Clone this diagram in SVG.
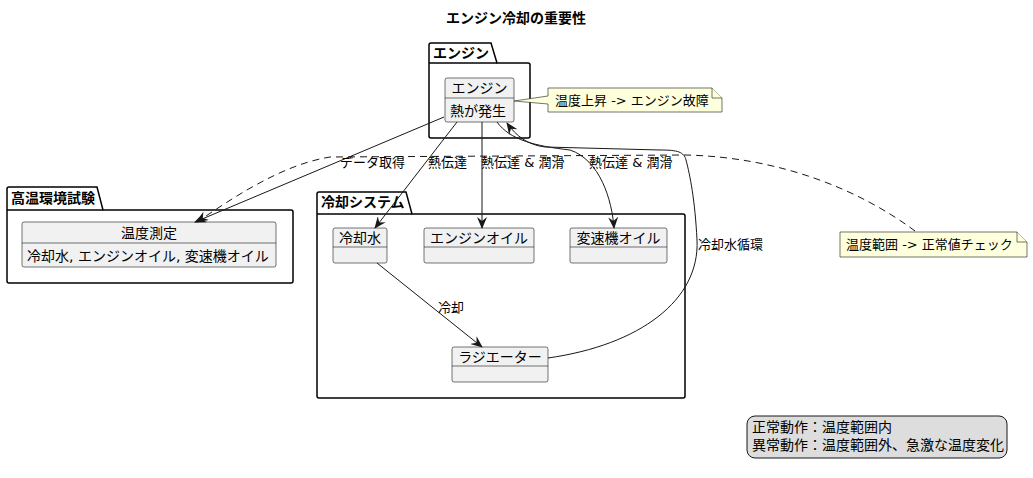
<svg xmlns="http://www.w3.org/2000/svg" width="1033" height="478" viewBox="0 0 1033 478">
<style>
text{font-family:"DejaVu Sans","Noto Sans CJK JP",sans-serif;fill:#000}
.t{font-size:14px;font-weight:bold}
.pk{fill:none;stroke:#000;stroke-width:1.5}
.pt{font-size:14px;font-weight:bold}
.cl{fill:#F1F1F1;stroke:#181818;stroke-width:0.6}
.ct{font-size:14px}
.nt{fill:#FEFFDD;stroke:#181818;stroke-width:0.6}
.nx{font-size:13px}
.lg{font-size:14px}
.e{fill:none;stroke:#181818;stroke-width:1}
.d{fill:none;stroke:#181818;stroke-width:1;stroke-dasharray:7,5}
.el{font-size:13px}
</style>
<defs>
<marker id="ah" viewBox="0 0 12 10" refX="11" refY="5" markerWidth="12" markerHeight="10" markerUnits="userSpaceOnUse" orient="auto">
<path d="M0,0 L12,5 L0,10 L4,5 Z" fill="#181818"/>
</marker>
</defs>
<text class="t" x="516" y="23" text-anchor="middle">エンジン冷却の重要性</text>

<g id="pkg-engine">
<path class="pk" d="M429,63 V45 Q429,43 431,43 H491 L497,63 H528 Q530,63 530,65 V136 Q530,138 528,138 H431 Q429,138 429,136 Z"/>
<line class="pk" x1="429" y1="63" x2="497" y2="63"/>
<text class="pt" x="433" y="58">エンジン</text>
</g>
<g id="engine">
<rect class="cl" x="445" y="78" width="69" height="44" rx="2"/>
<line class="cl" x1="445" y1="98" x2="514" y2="98"/>
<text class="ct" x="479.5" y="93" text-anchor="middle">エンジン</text>
<text class="ct" x="450" y="116">熱が発生</text>
</g>
<g id="note-engine">
<path class="nt" d="M548,88 H712 L722,98 V112 H548 V104 L514,101 L548,96 Z"/>
<path class="nt" d="M712,88 V98 H722"/>
<text class="nx" x="555" y="105">温度上昇 -&gt; エンジン故障</text>
</g>

<g id="pkg-hightemp">
<path class="pk" d="M7,210 V189 Q7,187 9,187 H97 L103,210 H291 Q293,210 293,212 V281 Q293,283 291,283 H9 Q7,283 7,281 Z"/>
<line class="pk" x1="7" y1="210" x2="103" y2="210"/>
<text class="pt" x="11" y="203">高温環境試験</text>
</g>
<g id="measure">
<rect class="cl" x="22" y="222" width="254" height="45" rx="2"/>
<line class="cl" x1="22" y1="243" x2="276" y2="243"/>
<text class="ct" x="149" y="238" text-anchor="middle">温度測定</text>
<text class="ct" x="27" y="261">冷却水, エンジンオイル, 変速機オイル</text>
</g>

<g id="pkg-cooling">
<path class="pk" d="M317,214 V194 Q317,192 319,192 H406 L412,214 H683 Q685,214 685,216 V396 Q685,398 683,398 H319 Q317,398 317,396 Z"/>
<line class="pk" x1="317" y1="214" x2="412" y2="214"/>
<text class="pt" x="321" y="207">冷却システム</text>
</g>
<g id="water">
<rect class="cl" x="333" y="228" width="54" height="35" rx="2"/>
<line class="cl" x1="333" y1="247" x2="387" y2="247"/>
<text class="ct" x="360" y="243" text-anchor="middle">冷却水</text>
</g>
<g id="engine-oil">
<rect class="cl" x="424" y="228" width="110" height="35" rx="2"/>
<line class="cl" x1="424" y1="247" x2="534" y2="247"/>
<text class="ct" x="479" y="243" text-anchor="middle">エンジンオイル</text>
</g>
<g id="trans-oil">
<rect class="cl" x="570" y="228" width="97" height="35" rx="2"/>
<line class="cl" x1="570" y1="247" x2="667" y2="247"/>
<text class="ct" x="618.5" y="243" text-anchor="middle">変速機オイル</text>
</g>
<g id="radiator">
<rect class="cl" x="452" y="347" width="96" height="35" rx="2"/>
<line class="cl" x1="452" y1="366" x2="548" y2="366"/>
<text class="ct" x="500" y="362" text-anchor="middle">ラジエーター</text>
</g>

<g id="note-range">
<path class="nt" d="M840,232 H1017 L1027,242 V257 H840 Z"/>
<path class="nt" d="M1017,232 V242 H1027"/>
<text class="nx" x="846" y="249">温度範囲 -&gt; 正常値チェック</text>
</g>

<g id="legend">
<rect x="747" y="416" width="260" height="42" rx="8" fill="#DDDDDD" stroke="#181818" stroke-width="1"/>
<text class="lg" x="752" y="432">正常動作：温度範囲内</text>
<text class="lg" x="752" y="450">異常動作：温度範囲外、急激な温度変化</text>
</g>

<g id="connectors">
<path class="e" d="M444,117 L195,222" marker-end="url(#ah)"/>
<path class="d" d="M915,231 C860,190 780,157 685,155 L330,157 C280,165 230,200 197,222" marker-end="url(#ah)"/>
<text class="el" x="340" y="167">データ取得</text>
<path class="e" d="M457,122 L375,228" marker-end="url(#ah)"/>
<text class="el" x="428" y="167">熱伝達</text>
<path class="e" d="M482,122 L482,228" marker-end="url(#ah)"/>
<text class="el" x="481" y="167">熱伝達 &amp; 潤滑</text>
<path class="e" d="M497,122 C510,140 535,146 570,150 C600,160 612,200 614,228" marker-end="url(#ah)"/>
<text class="el" x="589" y="167">熱伝達 &amp; 潤滑</text>
<path class="e" d="M377,263 L482,347" marker-end="url(#ah)"/>
<text class="el" x="438" y="312">冷却</text>
<path class="e" d="M548,358 C640,345 700,300 697,240 C695,200 690,175 686,160 C684,152 678,150 660,150 L545,147 C528,145 516,136 507,123" marker-end="url(#ah)"/>
<text class="el" x="698" y="249">冷却水循環</text>
</g>
</svg>
